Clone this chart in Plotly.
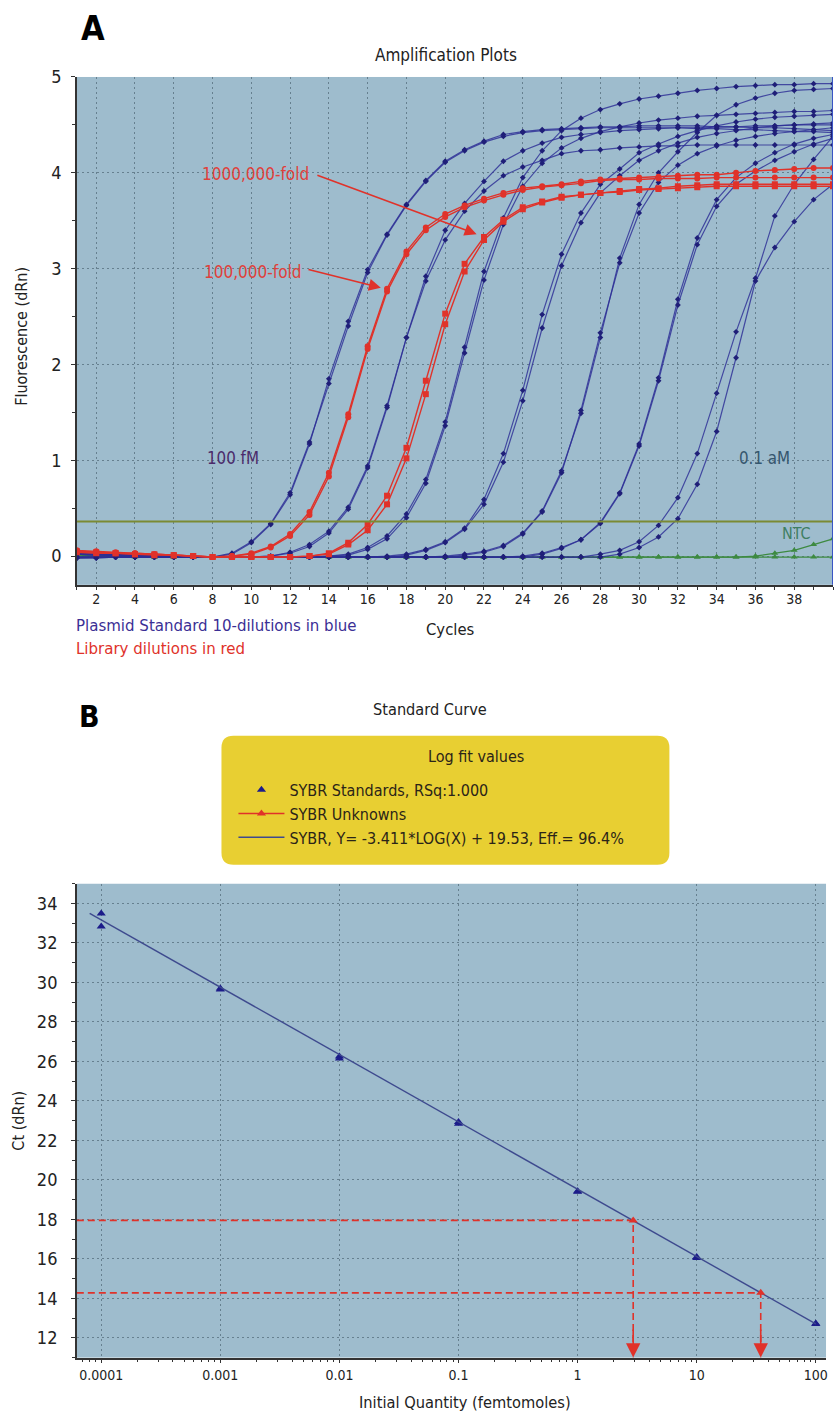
import math
import plotly.graph_objects as go

# ---------------- Panel A data: amplification plots ----------------
cycles = list(range(1, 41))

# Plasmid standard, 10-fold dilutions (duplicates), dRn per cycle
blue_100fM_a = [0.03,0.02,0.02,0.01,0.01,0.00,0.00,-0.01,0.02,0.14, 0.33,0.64,1.17,1.85,2.45,2.99,3.36,3.67,3.92,4.12, 4.24,4.33,4.40,4.43,4.45,4.46,4.47,4.48,4.48,4.49, 4.49,4.49,4.49,4.48,4.48,4.47,4.47,4.46,4.45,4.44]
blue_100fM_b = [-0.02,-0.02,-0.01,-0.01,-0.01,-0.01,-0.01,-0.01,0.03,0.15, 0.34,0.66,1.19,1.80,2.40,2.96,3.35,3.66,3.91,4.11, 4.23,4.32,4.38,4.42,4.44,4.45,4.46,4.47,4.47,4.47, 4.47,4.47,4.46,4.46,4.45,4.45,4.44,4.43,4.43,4.42]
blue_10fM_a = [0.02,0.02,0.01,0.01,0.00,0.00,-0.01,-0.01,-0.01,-0.01, 0.00,0.04,0.12,0.26,0.51,0.94,1.57,2.28,2.87,3.30, 3.60,3.81,3.97,4.06,4.13,4.20,4.23,4.24,4.26,4.27, 4.28,4.28,4.29,4.29,4.29,4.29,4.29,4.29,4.29,4.29]
blue_10fM_b = [-0.01,-0.01,-0.01,-0.01,-0.01,-0.01,-0.01,-0.01,-0.01,-0.01, 0.00,0.03,0.10,0.24,0.49,0.92,1.55,2.28,2.92,3.40, 3.68,3.91,4.12,4.23,4.31,4.37,4.40,4.42,4.44,4.45, 4.46,4.47,4.47,4.48,4.48,4.49,4.49,4.50,4.50,4.50]
blue_1fM_a = [0.02,0.01,0.01,0.00,0.00,-0.01,-0.01,-0.01,-0.01,-0.01, -0.01,-0.01,-0.01,0.00,0.02,0.09,0.21,0.44,0.80,1.40, 2.18,2.97,3.53,3.95,4.23,4.44,4.57,4.66,4.72,4.77, 4.80,4.83,4.86,4.88,4.90,4.91,4.92,4.92,4.93,4.93]
blue_1fM_b = [-0.02,-0.01,-0.01,-0.01,-0.01,-0.01,-0.01,-0.01,-0.01,-0.01, -0.01,-0.01,-0.01,0.00,0.01,0.07,0.18,0.40,0.76,1.36, 2.12,2.88,3.46,3.86,4.10,4.26,4.36,4.43,4.48,4.52, 4.55,4.57,4.59,4.60,4.61,4.62,4.63,4.64,4.64,4.65]
blue_100aM_a = [0.02,0.02,0.01,0.01,0.00,0.00,-0.01,-0.01,-0.01,-0.01, -0.01,-0.01,-0.01,-0.01,-0.01,-0.01,0.00,0.02,0.07,0.15, 0.29,0.59,1.07,1.73,2.52,3.15,3.58,3.88,4.04,4.21, 4.30,4.38,4.44,4.49,4.53,4.56,4.58,4.59,4.60,4.61]
blue_100aM_b = [-0.01,-0.01,-0.01,-0.01,-0.01,-0.01,-0.01,-0.01,-0.01,-0.01, -0.01,-0.01,-0.01,-0.01,-0.01,-0.01,-0.01,0.01,0.06,0.14, 0.28,0.54,0.98,1.62,2.38,3.03,3.48,3.79,3.97,4.13, 4.23,4.31,4.37,4.41,4.44,4.47,4.49,4.50,4.51,4.52]
blue_10aM_a = [0.02,0.01,0.01,0.00,0.00,-0.01,-0.01,-0.01,-0.01,-0.01, -0.01,-0.01,-0.01,-0.01,-0.01,-0.01,-0.01,-0.01,-0.01,0.00, 0.02,0.05,0.11,0.24,0.47,0.89,1.49,2.28,3.11,3.67, 4.00,4.22,4.42,4.60,4.71,4.78,4.83,4.86,4.87,4.88]
blue_10aM_b = [-0.01,-0.01,-0.01,-0.01,-0.01,-0.01,-0.01,-0.01,-0.01,-0.01, -0.01,-0.01,-0.01,-0.01,-0.01,-0.01,-0.01,-0.01,-0.01,-0.01, 0.01,0.04,0.10,0.23,0.46,0.87,1.52,2.33,3.06,3.58, 3.90,4.08,4.20,4.28,4.34,4.38,4.41,4.43,4.45,4.47]
blue_1aM_a = [0.02,0.02,0.01,0.01,0.00,0.00,-0.01,-0.01,-0.01,-0.01, -0.01,-0.01,-0.01,-0.01,-0.01,-0.01,-0.01,-0.01,-0.01,-0.01, -0.01,-0.01,-0.01,0.00,0.03,0.09,0.17,0.35,0.66,1.17, 1.86,2.68,3.32,3.72,3.95,4.10,4.21,4.30,4.36,4.40]
blue_1aM_b = [-0.02,-0.02,-0.01,-0.01,-0.01,-0.01,-0.01,-0.01,-0.01,-0.01, -0.01,-0.01,-0.01,-0.01,-0.01,-0.01,-0.01,-0.01,-0.01,-0.01, -0.01,-0.01,-0.01,-0.01,0.02,0.08,0.17,0.34,0.65,1.15, 1.83,2.62,3.25,3.65,3.88,4.02,4.13,4.22,4.30,4.36]
blue_01aM_a = [0.02,0.01,0.01,0.00,0.00,-0.01,-0.01,-0.01,-0.01,-0.01, -0.01,-0.01,-0.01,-0.01,-0.01,-0.01,-0.01,-0.01,-0.01,-0.01, -0.01,-0.01,-0.01,-0.01,-0.01,-0.01,-0.01,0.02,0.06,0.15, 0.32,0.61,1.07,1.70,2.34,2.90,3.55,3.88,4.14,4.38]
blue_01aM_b = [-0.01,-0.01,-0.01,-0.01,-0.01,-0.01,-0.01,-0.01,-0.01,-0.01, -0.01,-0.01,-0.01,-0.01,-0.01,-0.01,-0.01,-0.01,-0.01,-0.01, -0.01,-0.01,-0.01,-0.01,-0.01,-0.01,-0.01,-0.01,0.02,0.09, 0.20,0.39,0.75,1.30,2.07,2.87,3.22,3.49,3.72,3.88]

# Library dilutions (duplicates)
lib_100k_a = [0.06,0.05,0.04,0.03,0.02,0.01,0.00,-0.01,0.00,0.03, 0.10,0.23,0.46,0.87,1.48,2.19,2.79,3.18,3.43,3.57, 3.66,3.73,3.79,3.84,3.86,3.88,3.91,3.93,3.94,3.95, 3.96,3.97,3.98,3.98,4.00,4.02,4.03,4.04,4.05,4.05]
lib_100k_b = [0.05,0.04,0.03,0.03,0.02,0.01,0.00,-0.01,0.00,0.02, 0.09,0.21,0.43,0.83,1.45,2.16,2.76,3.15,3.40,3.54, 3.64,3.71,3.77,3.82,3.85,3.87,3.89,3.92,3.93,3.93, 3.94,3.94,3.94,3.95,3.95,3.95,3.95,3.95,3.95,3.95]
lib_1M_a = [0.05,0.04,0.03,0.02,0.02,0.01,0.00,-0.01,-0.01,-0.01, -0.01,-0.01,0.00,0.03,0.14,0.33,0.63,1.13,1.83,2.53, 3.05,3.33,3.51,3.64,3.70,3.75,3.77,3.79,3.81,3.83, 3.84,3.86,3.87,3.88,3.88,3.88,3.88,3.88,3.88,3.88]
lib_1M_b = [0.04,0.03,0.03,0.02,0.01,0.01,0.00,-0.01,-0.01,-0.01, -0.01,-0.01,0.00,0.02,0.12,0.27,0.54,1.02,1.69,2.42, 2.97,3.30,3.49,3.62,3.69,3.74,3.77,3.79,3.80,3.82, 3.83,3.84,3.85,3.86,3.86,3.86,3.86,3.86,3.86,3.86]

# No-template controls
ntc_a = [0.01,0.00,0.00,0.00,-0.01,-0.01,-0.01,-0.01,-0.01,-0.01, -0.01,-0.01,-0.01,-0.01,-0.01,-0.01,-0.01,-0.01,-0.01,-0.01, -0.01,-0.01,-0.01,-0.01,-0.01,-0.01,-0.01,-0.01,-0.01,-0.01, -0.01,-0.01,-0.01,-0.01,-0.01,-0.01,-0.01,-0.01,-0.01,-0.01]
ntc_b = [0.00,0.00,0.00,-0.01,-0.01,-0.01,-0.01,-0.01,-0.01,-0.01, -0.01,-0.01,-0.01,-0.01,-0.01,-0.01,-0.01,-0.01,-0.01,-0.01, -0.01,-0.01,-0.01,-0.01,-0.01,-0.01,-0.01,-0.01,-0.01,-0.01, -0.01,-0.01,-0.01,-0.01,-0.01,0.00,0.03,0.06,0.12,0.18]

threshold_dRn = 0.36

amp_x_ticks = list(range(2, 41, 2))
amp_y_ticks = [0, 1, 2, 3, 4, 5]

# ---------------- Panel B data: standard curve ----------------
std_quantity_fmol = [0.0001, 0.0001, 0.001, 0.001, 0.01, 0.01, 0.1, 0.1, 1, 1, 10, 10, 100, 100]
std_ct = [33.49, 32.83, 29.70, 29.65, 26.25, 26.15, 22.93, 22.85, 19.43, 19.40, 16.09, 16.05, 12.73, 12.70]
unknown_quantity_fmol = [2.93, 34.5]
unknown_ct = [17.95, 14.28]
fit_slope = -3.411
fit_intercept = 19.53
fit_quantity_span = [0.00008, 100]

std_x_ticks = [0.0001, 0.001, 0.01, 0.1, 1, 10, 100]
std_x_labels = ["0.0001", "0.001", "0.01", "0.1", "1", "10", "100"]
std_y_ticks = list(range(12, 35, 2))

# ---------------- styling ----------------
FONT = "'DejaVu Sans Condensed', 'DejaVu Sans', sans-serif"
BG = "#9ebccd"
GRID = "#66808f"
NAVY_LINE = "rgba(45,46,150,0.82)"
NAVY_MK = "#1f1f78"
RED = "#e0322a"
GREEN = "#3d8a40"

fig = go.Figure()

# NTC (drawn first, beneath)
for ys in (ntc_a, ntc_b):
    fig.add_trace(go.Scatter(x=cycles, y=ys, mode="lines+markers", showlegend=False,
                             line=dict(color=GREEN, width=1.2),
                             marker=dict(symbol="triangle-up", size=6, color=GREEN),
                             name="NTC", xaxis="x", yaxis="y"))

blue_series = [
    ("100 fM", blue_100fM_a), ("100 fM", blue_100fM_b),
    ("10 fM", blue_10fM_a), ("10 fM", blue_10fM_b),
    ("1 fM", blue_1fM_a), ("1 fM", blue_1fM_b),
    ("100 aM", blue_100aM_a), ("100 aM", blue_100aM_b),
    ("10 aM", blue_10aM_a), ("10 aM", blue_10aM_b),
    ("1 aM", blue_1aM_a), ("1 aM", blue_1aM_b),
    ("0.1 aM", blue_01aM_a), ("0.1 aM", blue_01aM_b),
]
for nm, ys in blue_series:
    fig.add_trace(go.Scatter(x=cycles, y=ys, mode="lines+markers", showlegend=False, name=nm,
                             line=dict(color=NAVY_LINE, width=1.2),
                             marker=dict(symbol="diamond", size=4.5, color=NAVY_MK),
                             xaxis="x", yaxis="y"))

red_series = [
    ("100,000-fold", lib_100k_a, "circle"), ("100,000-fold", lib_100k_b, "circle"),
    ("1000,000-fold", lib_1M_a, "square"), ("1000,000-fold", lib_1M_b, "square"),
]
for nm, ys, sym in red_series:
    fig.add_trace(go.Scatter(x=cycles, y=ys, mode="lines+markers", showlegend=False, name=nm,
                             line=dict(color=RED, width=1.4),
                             marker=dict(symbol=sym, size=6, color=RED),
                             xaxis="x", yaxis="y"))

# threshold
fig.add_trace(go.Scatter(x=[cycles[0], cycles[-1]], y=[threshold_dRn, threshold_dRn], mode="lines",
                         showlegend=False, name="Threshold", hoverinfo="skip",
                         line=dict(color="#7b8a33", width=2), xaxis="x", yaxis="y"))

# ---------------- Panel B traces ----------------
fig.add_trace(go.Scatter(x=std_quantity_fmol, y=std_ct, mode="markers",
                         name="SYBR Standards, RSq:1.000",
                         marker=dict(symbol="triangle-up", size=8, color="#1c1c8a"),
                         xaxis="x2", yaxis="y2", legendrank=1))

x_left = 10 ** -4.205
for q, ct in zip(unknown_quantity_fmol, unknown_ct):
    fig.add_trace(go.Scatter(x=[x_left, q, q], y=[ct, ct, 11.0], mode="lines", showlegend=False,
                             hoverinfo="skip", line=dict(color=RED, width=1.6, dash="7px,4px"),
                             xaxis="x2", yaxis="y2"))

fit_ct = [fit_slope * math.log10(q) + fit_intercept for q in fit_quantity_span]
fig.add_trace(go.Scatter(x=fit_quantity_span, y=fit_ct, mode="lines",
                         name="SYBR, Y= -3.411*LOG(X) + 19.53, Eff.= 96.4%",
                         line=dict(color="#3e4a8e", width=1.4),
                         xaxis="x2", yaxis="y2", legendrank=3))

fig.add_trace(go.Scatter(x=unknown_quantity_fmol, y=unknown_ct, mode="markers", showlegend=False,
                         name="SYBR Unknowns",
                         marker=dict(symbol="triangle-up", size=8, color=RED),
                         xaxis="x2", yaxis="y2"))
# legend entry for unknowns (line + marker glyph)
fig.add_trace(go.Scatter(x=[None], y=[None], mode="lines+markers", name="SYBR Unknowns",
                         line=dict(color=RED, width=1.5),
                         marker=dict(symbol="triangle-up", size=8, color=RED),
                         xaxis="x2", yaxis="y2", legendrank=2))

W, H = 838, 1413
def px(x):
    return x / W
def py(y):
    # compensate the slight vertical offset observed in the rendered page
    yc = (y - 10) / 0.9925
    return 1 - yc / H

axis_common = dict(showline=True, linecolor="#333", linewidth=1.5, ticks="outside",
                   tickcolor="#333", zeroline=False, showgrid=True, gridcolor=GRID,
                   gridwidth=1, griddash="2px,3px")

fig.update_layout(
    width=W, height=H, autosize=False,
    margin=dict(l=0, r=0, t=0, b=0),
    paper_bgcolor="white", plot_bgcolor=BG,
    font=dict(family=FONT, size=17, color="#222"),
    xaxis=dict(domain=[px(77), px(835)], anchor="y", range=[1, 40], tickmode="array",
               tickvals=amp_x_ticks, ticklen=3, tickfont=dict(size=14), ticklabelstandoff=-2,
               minor=dict(tickmode="linear", tick0=1, dtick=1, ticks="outside", ticklen=3,
                          tickcolor="#333", showgrid=False),
               **axis_common),
    yaxis=dict(domain=[py(584), py(76)], anchor="x", range=[-0.3, 5.0], tickmode="array",
               tickvals=amp_y_ticks, ticklen=4, tickfont=dict(size=18), ticklabelstandoff=6,
               minor=dict(tickmode="linear", tick0=0.5, dtick=1, ticks="outside", ticklen=3,
                          tickcolor="#333", showgrid=False),
               **axis_common),
    xaxis2=dict(domain=[px(77), px(828)], anchor="y2", type="log", range=[-4.205, 2.086],
                tickmode="array", tickvals=std_x_ticks, ticktext=std_x_labels, ticklen=4,
                tickfont=dict(size=14), ticklabelstandoff=0,
                minor=dict(tickvals=[k * 10 ** e for e in range(-5, 3) for k in range(2, 10)],
                           ticks="outside", ticklen=3, tickcolor="#333", showgrid=False),
                **axis_common),
    yaxis2=dict(domain=[py(1357), py(883)], anchor="x2", range=[11, 35], tickmode="array",
                tickvals=std_y_ticks, ticklen=4, tickfont=dict(size=18), ticklabelstandoff=10,
                minor=dict(tickmode="linear", tick0=11, dtick=2, ticks="outside", ticklen=3,
                           tickcolor="#333", showgrid=False),
                **axis_common),
    legend=dict(x=px(234), y=py(772), xanchor="left", yanchor="top",
                bgcolor="rgba(0,0,0,0)", font=dict(size=16, color="#2b2418"),
                traceorder="normal", itemwidth=46, tracegroupgap=0),
)

# right border of amplification plot
fig.add_shape(type="line", xref="x", yref="y domain", x0=40, x1=40, y0=0, y1=1,
              line=dict(color="#3a55c4", width=2))

# yellow rounded legend box
x0, x1, y0, y1 = px(222), px(671), py(864), py(735)
rx, ry = 12 / W, 12 / H
path = (f"M{x0+rx},{y0} L{x1-rx},{y0} Q{x1},{y0} {x1},{y0+ry} L{x1},{y1-ry} Q{x1},{y1} {x1-rx},{y1} "
        f"L{x0+rx},{y1} Q{x0},{y1} {x0},{y1-ry} L{x0},{y0+ry} Q{x0},{y0} {x0+rx},{y0} Z")
fig.add_shape(type="path", xref="paper", yref="paper", path=path,
              fillcolor="#e8cf32", line=dict(width=0), layer="below")

ann = []
def text(x, y, s, size=17, color="#222", xanchor="center", angle=0, bold=False, ref="paper"):
    d = dict(x=x, y=y, text=(f"<b>{s}</b>" if bold else s), showarrow=False,
             font=dict(size=size, color=color, family=FONT), xanchor=xanchor, yanchor="middle",
             textangle=angle)
    if ref == "paper":
        d.update(xref="paper", yref="paper")
    else:
        d.update(xref="x", yref="y")
    ann.append(d)

text(px(93), py(27), "A", size=34, color="#000", bold=True)
text(px(447), py(54), "Amplification Plots", size=17)
text(px(22), py(335), "Fluorescence (dRn)", size=16, angle=-90)
text(px(452), py(629), "Cycles", size=16.5)
text(px(74), py(624), "Plasmid Standard 10-dilutions in blue", size=16.7, color="#3b2f95", xanchor="left")
text(px(74), py(647), "Library dilutions in red", size=16.7, color=RED, xanchor="left")
text(9.05, 1.02, "100 fM", size=16.8, color="#4b2b6b", ref="data")
text(36.45, 1.02, "0.1 aM", size=16.8, color="#35566e", ref="data")
text(38.1, 0.24, "NTC", size=16, color="#3f7f62", ref="data")
text(10.24, 3.99, "1000,000-fold", size=17, color="#e0403a", ref="data")
text(10.08, 2.97, "100,000-fold", size=17, color="#e0403a", ref="data")

# red arrows in panel A
for (tx, ty, hx, hy) in [(13.33, 3.98, 21.62, 3.36), (12.87, 2.995, 16.68, 2.80)]:
    ann.append(dict(x=hx, y=hy, ax=tx, ay=ty, xref="x", yref="y", axref="x", ayref="y",
                    text="", showarrow=True, arrowhead=2, arrowsize=1.5, arrowwidth=1.6,
                    arrowcolor=RED, standoff=0))

text(px(90), py(716), "B", size=30, color="#000", bold=True)
text(px(431), py(709), "Standard Curve", size=16.2)
text(px(477), py(756), "Log fit values", size=16, color="#2b2418")
text(px(19), py(1120), "Ct (dRn)", size=16, angle=-90)
text(px(466), py(1402), "Initial Quantity (femtomoles)", size=16.3)

# arrowheads at the bottom of the dashed drop lines
for q in unknown_quantity_fmol:
    lq = math.log10(q)
    ann.append(dict(x=lq, y=11.0, ax=lq, ay=12.5, xref="x2", yref="y2", axref="x2", ayref="y2",
                    text="", showarrow=True, arrowhead=2, arrowsize=1.8, arrowwidth=1.6,
                    arrowcolor=RED, standoff=0))

fig.update_layout(annotations=ann)
fig.write_html("out.html", config={"displayModeBar": False},
               post_script="document.body.style.margin='0px';")
